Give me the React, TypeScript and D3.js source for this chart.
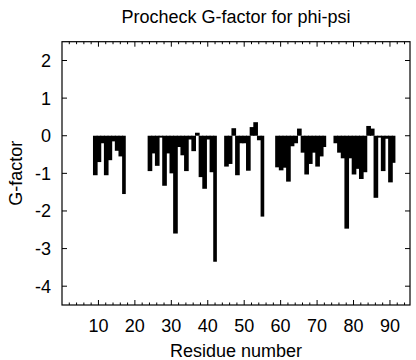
import * as d3 from "d3"
import { useEffect, useRef } from "react"

// residue numbers that have a G-factor, and the value for each
const residues = [
  9, 10, 11, 12, 13, 14, 15, 16, 17,
  24, 25, 26, 27, 28, 29, 30, 31, 32, 33, 34, 35, 36, 37, 38, 39, 40, 41, 42,
  45, 46, 47, 48, 49, 50, 51, 52, 53, 54, 55,
  59, 60, 61, 62, 63, 64, 65, 66, 67, 68, 69, 70, 71, 72,
  75, 76, 77, 78, 79, 80, 81, 82, 83, 84, 85, 86, 87, 88, 89, 90, 91,
]
const gFactor = [
  -1.05, -0.7, -0.2, -1.05, -0.65, -0.15, -0.4, -0.55, -1.55,
  -0.94, -0.47, -0.8, -0.05, -1.33, -0.47, -1.0, -2.6, -0.3, -0.52, -0.94,
  -0.1, -0.41, 0.08, -1.1, -1.41, -0.1, -0.97, -3.35,
  -0.82, -0.75, 0.2, -1.05, -0.2, -0.2, -0.93, 0.23, 0.36, -0.12, -2.15,
  -0.84, -0.92, -0.85, -1.22, -0.28, -0.2, 0.19, -0.45, -1.03, -0.75, -0.45,
  -0.82, -0.55, -0.3,
  -0.2, -0.45, -0.6, -2.47, -0.6, -1.03, -0.88, -1.15, -0.97, 0.26, 0.19,
  -1.65, -0.05, -0.94, -0.08, -1.24, -0.72,
]
const xTickValues = [10, 20, 30, 40, 50, 60, 70, 80, 90]
const yTickValues = [-4, -3, -2, -1, 0, 1, 2]

const WIDTH = 416
const HEIGHT = 360
const FONT = "'Liberation Sans', Arial, Helvetica, sans-serif"

const App = () => {
  const svgRef = useRef<SVGSVGElement>(null)

  useEffect(() => {
    if (!svgRef.current) return
    const svg = d3.select(svgRef.current)
    svg.selectAll("*").remove()

    const MARGIN = { top: 41.7, right: 6, bottom: 55, left: 62 }
    const x = d3
      .scaleLinear()
      .domain([0, 95.5])
      .range([MARGIN.left, WIDTH - MARGIN.right])
    const y = d3
      .scaleLinear()
      .domain([-4.5, 2.5])
      .range([HEIGHT - MARGIN.bottom, MARGIN.top])

    const data = residues.map((r, i) => ({ r, v: gFactor[i] }))
    const present = new Set(residues)

    // boxes, width one residue; overlap the next box a little when it exists
    svg
      .append("g")
      .selectAll("rect")
      .data(data)
      .join("rect")
      .attr("x", (d) => x(d.r - 0.5))
      .attr(
        "width",
        (d) => x(d.r + 0.5) - x(d.r - 0.5) + (present.has(d.r + 1) ? 1 : 0),
      )
      .attr("y", (d) => y(Math.max(0, d.v)))
      .attr("height", (d) => Math.abs(y(d.v) - y(0)))
      .attr("fill", "#000")

    // frame
    svg
      .append("rect")
      .attr("x", x(0))
      .attr("y", y(2.5))
      .attr("width", x(95.5) - x(0))
      .attr("height", y(-4.5) - y(2.5))
      .attr("fill", "none")
      .attr("stroke", "#000")
      .attr("stroke-width", 1.2)

    // x ticks (mirrored, inward), minor every 2
    const xTicks = d3.range(2, 95, 2)
    const tickG = svg.append("g").attr("stroke", "#000").attr("stroke-width", 1)
    xTicks.forEach((t) => {
      const len = t % 10 === 0 ? 5 : 2.5
      tickG
        .append("line")
        .attr("x1", x(t))
        .attr("x2", x(t))
        .attr("y1", y(-4.5))
        .attr("y2", y(-4.5) - len)
      tickG
        .append("line")
        .attr("x1", x(t))
        .attr("x2", x(t))
        .attr("y1", y(2.5))
        .attr("y2", y(2.5) + len)
    })
    yTickValues.forEach((t) => {
      tickG
        .append("line")
        .attr("x1", x(0))
        .attr("x2", x(0) + 5)
        .attr("y1", y(t))
        .attr("y2", y(t))
      tickG
        .append("line")
        .attr("x1", x(95.5))
        .attr("x2", x(95.5) - 5)
        .attr("y1", y(t))
        .attr("y2", y(t))
    })

    const text = svg.append("g").attr("font-family", FONT).attr("fill", "#000")

    text
      .selectAll("text.xt")
      .data(xTickValues)
      .join("text")
      .attr("class", "xt")
      .attr("x", (d) => x(d))
      .attr("y", 332)
      .attr("text-anchor", "middle")
      .attr("font-size", "18px")
      .text((d) => d)

    text
      .selectAll("text.yt")
      .data(yTickValues)
      .join("text")
      .attr("class", "yt")
      .attr("x", 51)
      .attr("y", (d) => y(d) + 6.5)
      .attr("text-anchor", "end")
      .attr("font-size", "18px")
      .text((d) => d)

    text
      .append("text")
      .attr("x", (x(0) + x(95.5)) / 2)
      .attr("y", 357)
      .attr("text-anchor", "middle")
      .attr("font-size", "18px")
      .text("Residue number")

    text
      .append("text")
      .attr("transform", `translate(22, ${(y(2.5) + y(-4.5)) / 2}) rotate(-90)`)
      .attr("text-anchor", "middle")
      .attr("font-size", "18px")
      .text("G-factor")

    text
      .append("text")
      .attr("x", (x(0) + x(95.5)) / 2)
      .attr("y", 23)
      .attr("text-anchor", "middle")
      .attr("font-size", "18px")
      .text("Procheck G-factor for phi-psi")
  }, [])

  return (
    <div style={{ position: "absolute", left: 0, top: 0 }}>
      <svg
        ref={svgRef}
        width={WIDTH}
        height={HEIGHT}
        style={{ display: "block", background: "#fff" }}
      />
    </div>
  )
}

export default App
